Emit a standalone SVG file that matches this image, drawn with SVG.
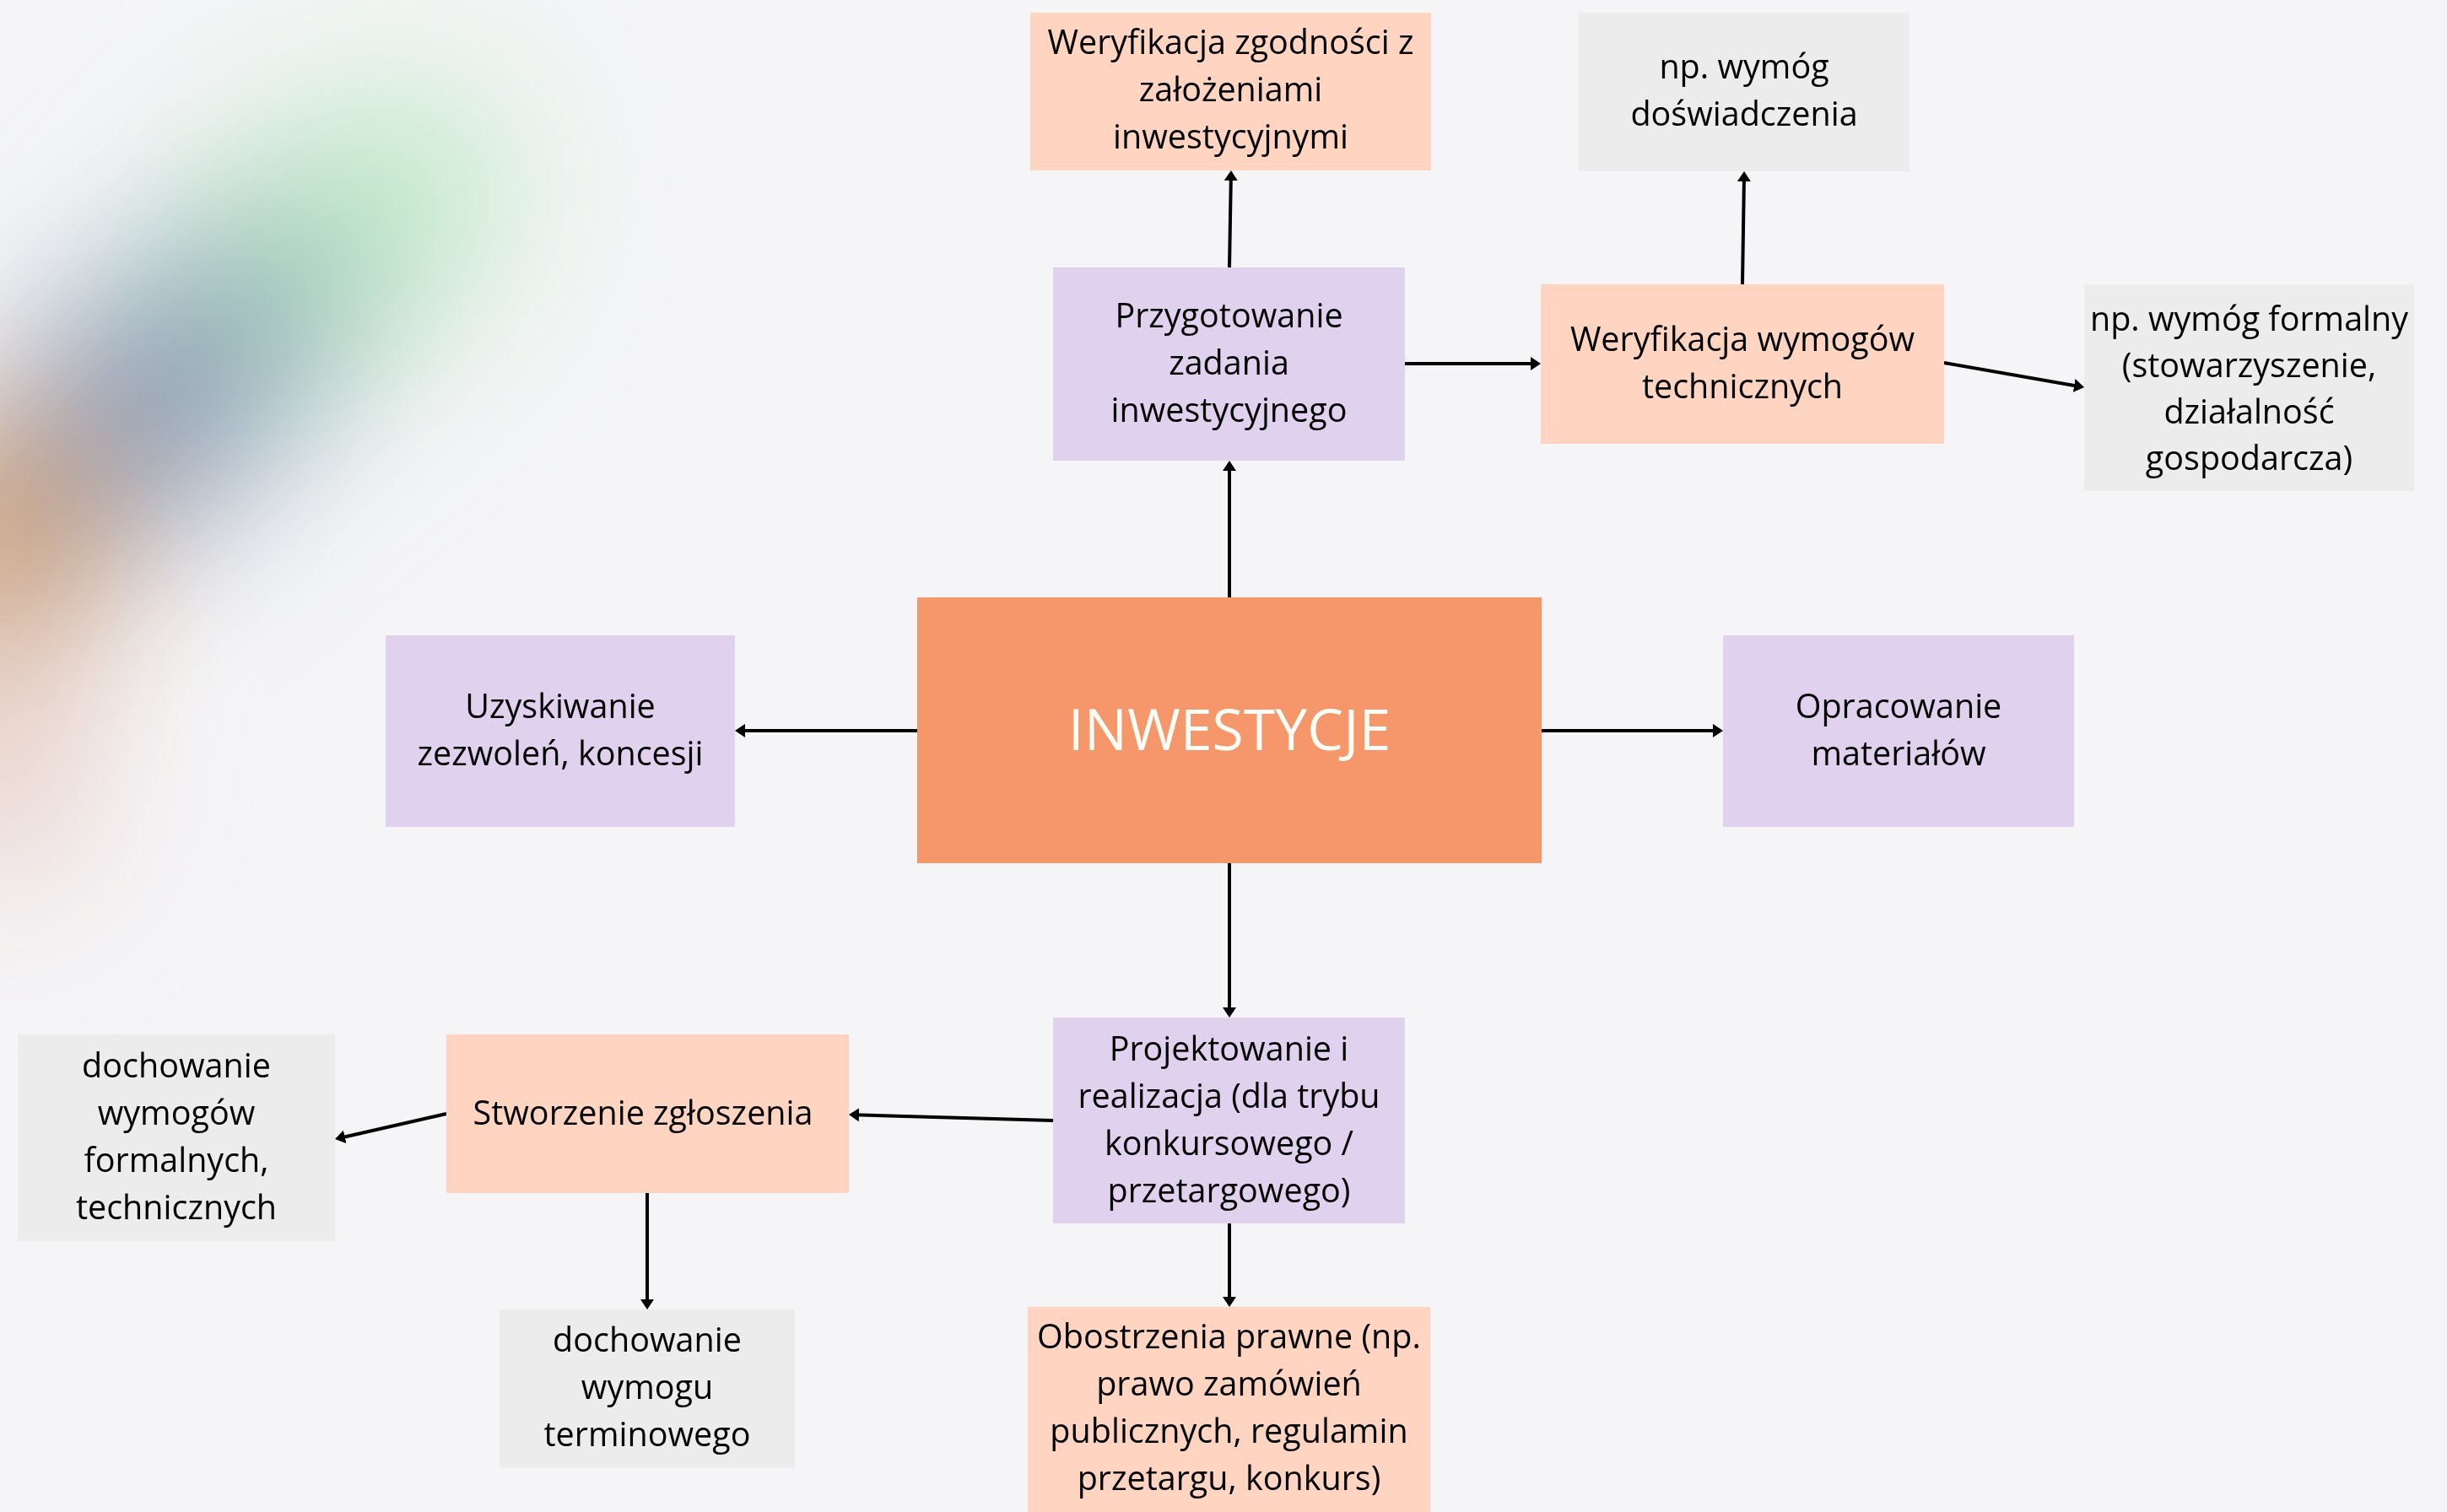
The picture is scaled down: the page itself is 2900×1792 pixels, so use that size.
<svg xmlns="http://www.w3.org/2000/svg" width="2900" height="1792" viewBox="0 0 2900 1792">
<defs>
<filter id="blur" filterUnits="userSpaceOnUse" x="-600" y="-600" width="2000" height="2200">
<feGaussianBlur stdDeviation="90"/>
</filter>
<marker id="arr" viewBox="0 0 12 16" markerWidth="12" markerHeight="16" refX="6" refY="8" markerUnits="userSpaceOnUse" orient="auto">
<path d="M0,0 L12,8 L0,16 Z" fill="#000"/>
</marker>
</defs>
<style>
.t{font-family:"Open Sans","DejaVu Sans",sans-serif;font-size:39.5px;fill:#000;text-anchor:middle}
.big{font-family:"Open Sans","DejaVu Sans",sans-serif;font-size:68px;fill:#fffdf6;text-anchor:middle}
.purple{fill:#e0d2ef}
.peach{fill:#ffd5c2}
.gray{fill:#ececec}
.orange{fill:#f6966b}
.c{stroke:#000;stroke-width:4;fill:none;marker-end:url(#arr)}
</style>
<rect x="0" y="0" width="2900" height="1792" fill="#f5f5f7"/>
<g id="blob" filter="url(#blur)">
<ellipse cx="395" cy="285" rx="240" ry="150" transform="rotate(-35 395 285)" fill="#c4eac9"/>
<ellipse cx="270" cy="395" rx="180" ry="140" transform="rotate(-38 270 395)" fill="#9cc4ba"/>
<ellipse cx="160" cy="495" rx="170" ry="140" transform="rotate(-40 160 495)" fill="#909fb6"/>
<ellipse cx="0" cy="645" rx="130" ry="165" fill="#c89d76"/>
<ellipse cx="0" cy="890" rx="95" ry="160" fill="#e8cdc4"/>
</g>
<g id="connectors">
<line class="c" x1="1457" y1="708" x2="1457" y2="552"/>
<line class="c" x1="1457" y1="317" x2="1458.9" y2="208"/>
<line class="c" x1="1665" y1="431" x2="1820" y2="431"/>
<line class="c" x1="2065" y1="337" x2="2067" y2="209"/>
<line class="c" x1="2304" y1="430" x2="2464.1" y2="458"/>
<line class="c" x1="1087" y1="866" x2="877" y2="866"/>
<line class="c" x1="1827" y1="866" x2="2036" y2="866"/>
<line class="c" x1="1457" y1="1023" x2="1457" y2="1200"/>
<line class="c" x1="1248" y1="1328" x2="1012" y2="1321.2"/>
<line class="c" x1="529" y1="1320" x2="402.9" y2="1348.7"/>
<line class="c" x1="767" y1="1414" x2="767" y2="1546"/>
<line class="c" x1="1457" y1="1450" x2="1457" y2="1543"/>
</g>
<g id="n-inwestycje">
<rect class="orange" x="1087" y="708" width="740" height="315"/>
<text class="big" x="1457" y="889">INWESTYCJE</text>
</g>
<g id="n-weryfikacja-zgodnosci">
<rect class="peach" x="1221" y="15" width="475" height="187"/>
<text class="t" x="1458.5" y="64">Weryfikacja zgodności z</text>
<text class="t" x="1458.5" y="120">założeniami</text>
<text class="t" x="1458.5" y="176">inwestycyjnymi</text>
</g>
<g id="n-doswiadczenie">
<rect class="gray" x="1871" y="15" width="392" height="188"/>
<text class="t" x="2067" y="93">np. wymóg</text>
<text class="t" x="2067" y="149">doświadczenia</text>
</g>
<g id="n-przygotowanie">
<rect class="purple" x="1248" y="317" width="417" height="229"/>
<text class="t" x="1456.5" y="388">Przygotowanie</text>
<text class="t" x="1456.5" y="444">zadania</text>
<text class="t" x="1456.5" y="500">inwestycyjnego</text>
</g>
<g id="n-weryfikacja-wymogow">
<rect class="peach" x="1826" y="337" width="478" height="189"/>
<text class="t" x="2065" y="416">Weryfikacja wymogów</text>
<text class="t" x="2065" y="472">technicznych</text>
</g>
<g id="n-formalny">
<rect class="gray" x="2470" y="337" width="391" height="245"/>
<text class="t" x="2665.5" y="392">np. wymóg formalny</text>
<text class="t" x="2665.5" y="447">(stowarzyszenie,</text>
<text class="t" x="2665.5" y="502">działalność</text>
<text class="t" x="2665.5" y="557">gospodarcza)</text>
</g>
<g id="n-uzyskiwanie">
<rect class="purple" x="457" y="753" width="414" height="227"/>
<text class="t" x="664" y="851">Uzyskiwanie</text>
<text class="t" x="664" y="907">zezwoleń, koncesji</text>
</g>
<g id="n-opracowanie">
<rect class="purple" x="2042" y="753" width="416" height="227"/>
<text class="t" x="2250" y="851">Opracowanie</text>
<text class="t" x="2250" y="907">materiałów</text>
</g>
<g id="n-projektowanie">
<rect class="purple" x="1248" y="1206" width="417" height="244"/>
<text class="t" x="1456.5" y="1257">Projektowanie i</text>
<text class="t" x="1456.5" y="1313">realizacja (dla trybu</text>
<text class="t" x="1456.5" y="1369">konkursowego /</text>
<text class="t" x="1456.5" y="1425">przetargowego)</text>
</g>
<g id="n-stworzenie">
<rect class="peach" x="529" y="1226" width="477" height="188"/>
<text class="t" x="762" y="1333">Stworzenie zgłoszenia</text>
</g>
<g id="n-formalne-techniczne">
<rect class="gray" x="21" y="1226" width="376" height="245"/>
<text class="t" x="209" y="1277">dochowanie</text>
<text class="t" x="209" y="1333">wymogów</text>
<text class="t" x="209" y="1389">formalnych,</text>
<text class="t" x="209" y="1445">technicznych</text>
</g>
<g id="n-terminowy">
<rect class="gray" x="592" y="1552" width="350" height="188"/>
<text class="t" x="767" y="1602">dochowanie</text>
<text class="t" x="767" y="1658">wymogu</text>
<text class="t" x="767" y="1714">terminowego</text>
</g>
<g id="n-obostrzenia">
<rect class="peach" x="1218" y="1549" width="477" height="243"/>
<text class="t" x="1456.5" y="1598">Obostrzenia prawne (np.</text>
<text class="t" x="1456.5" y="1654">prawo zamówień</text>
<text class="t" x="1456.5" y="1710">publicznych, regulamin</text>
<text class="t" x="1456.5" y="1766">przetargu, konkurs)</text>
</g>
</svg>
